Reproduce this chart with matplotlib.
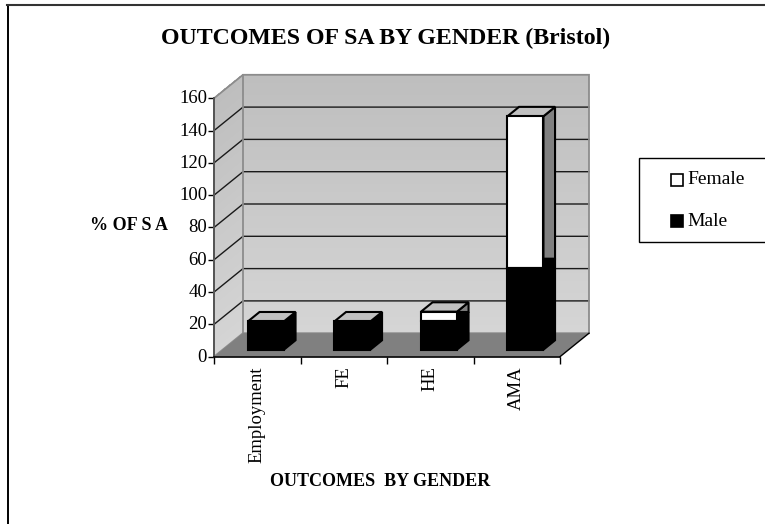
import matplotlib
matplotlib.use("Agg")
import matplotlib.pyplot as plt
import numpy as np
from matplotlib.lines import Line2D
from matplotlib.patches import Polygon, Rectangle
from matplotlib.transforms import ScaledTranslation

# values
categories = ["Employment", "FE", "HE", "AMA"]
male = [17.5, 17.5, 17.5, 50.5]
female = [0, 0, 6, 94]
y_ticks = [0, 20, 40, 60, 80, 100, 120, 140, 160]

plt.rcParams["font.family"] = ["Liberation Serif", "DejaVu Serif"]

W, H = 765, 524
fig = plt.figure(figsize=(W / 100, H / 100), dpi=100)

# front plane of the fake 3d box, pixels
left, right, bottom, top = 214, 560, 356.7, 98.3
ax = fig.add_axes([left / W, 1 - bottom / H, (right - left) / W, (bottom - top) / H])
ax.set_xlim(0, len(categories))
ax.set_ylim(0, 160)
ax.patch.set_visible(False)

# depth offset of the box, in data units
dep_x = 29.0 / ((right - left) / len(categories))
dep_y = 23.5 / ((bottom - top) / 160)

bar_w = 36.0 / ((right - left) / len(categories))
front = 0.3  # where the bar starts in the depth
deep = 0.4


def pt(x, y, d):
    return (x + d * dep_x, y + d * dep_y)


def poly(pts, face, edge="none", lw=0, z=1, aa=True):
    ax.add_patch(Polygon(pts, closed=True, facecolor=face, edgecolor=edge, antialiased=aa,
                         linewidth=lw, zorder=z, clip_on=False, joinstyle="miter"))


n = len(categories)

# walls with the grey fade, darker on top, drawn as thin bands
levels = np.linspace(0, 160, 65)
shades = np.linspace(0.835, 0.745, 64)
for k in range(64):
    y0, y1 = levels[k], levels[k + 1] + 0.3
    g = str(shades[k])
    poly([pt(0, y0, 1), pt(n, y0, 1), pt(n, y1, 1), pt(0, y1, 1)], g, z=1, aa=False)
    poly([pt(0, y0, 0), pt(0, y0, 1), pt(0, y1, 1), pt(0, y1, 0)], g, z=1, aa=False)

# gridlines
for t in y_ticks[1:-1]:
    ax.plot(*zip(pt(0, t, 0), pt(0, t, 1), pt(n, t, 1)), color="#1a1a1a", lw=1.0, zorder=2, clip_on=False)

# wall edges
poly([pt(0, 0, 0), pt(0, 0, 1), pt(n, 0, 1), pt(n, 160, 1), pt(0, 160, 1), pt(0, 160, 0)],
     "none", "#8c8c8c", 1.3, 2)
ax.plot(*zip(pt(0, 0, 1), pt(0, 160, 1)), color="#8c8c8c", lw=1.3, zorder=2, clip_on=False)

# floor
poly([pt(0, 0, 0), pt(n, 0, 0), pt(n, 0, 1), pt(0, 0, 1)], "#808080", z=3)
ax.plot(*zip(pt(n, 0, 0), pt(n, 0, 1)), color="black", lw=1.0, zorder=3, clip_on=False)


def box(x0, y0, y1, face, top_face, side_face):
    x1 = x0 + bar_w
    lw = 1.5
    poly([pt(x0, y0, front), pt(x1, y0, front), pt(x1, y1, front), pt(x0, y1, front)], face, "black", lw, 5)
    poly([pt(x1, y0, front), pt(x1, y0, front + deep), pt(x1, y1, front + deep), pt(x1, y1, front)],
         side_face, "black", lw, 4)
    poly([pt(x0, y1, front), pt(x1, y1, front), pt(x1, y1, front + deep), pt(x0, y1, front + deep)],
         top_face, "black", lw, 4)


for i in range(n):
    x0 = i + 0.5 - bar_w / 2
    if female[i] > 0:
        box(x0, male[i], male[i] + female[i], "white", "#c0c0c0", "#808080")
        box(x0, 0, male[i], "black", "black", "black")
    else:
        box(x0, 0, male[i], "black", "#c0c0c0", "black")

# axes
for s in ["top", "right"]:
    ax.spines[s].set_visible(False)
ax.spines["left"].set_color("#555555")
ax.spines["left"].set_linewidth(1.4)
ax.spines["bottom"].set_linewidth(1.2)
ax.spines["bottom"].set_zorder(6)
ax.set_yticks(y_ticks)
ax.set_xticks(range(n + 1))
ax.set_xticklabels([])
ax.set_xticks(np.arange(n) + 0.5, minor=True)
ax.set_xticklabels(categories, minor=True, rotation=90, fontsize=13.4)
ax.tick_params(axis="x", which="minor", length=0, pad=7)
ax.tick_params(axis="x", which="major", length=5, width=1)
ax.tick_params(axis="y", length=4, width=1, pad=1, labelsize=13.5)

# y labels sit a little above their ticks
shift = ScaledTranslation(0, 1.5 / 100, fig.dpi_scale_trans)
for label in ax.get_yticklabels():
    label.set_transform(label.get_transform() + shift)

# texts
fig.text(386 / W, 1 - 38 / H, "OUTCOMES OF SA BY GENDER (Bristol)", ha="center", va="center",
         fontsize=17.2, fontweight="bold")
fig.text(129.5 / W, 1 - 226 / H, "% OF S A", ha="center", va="center", fontsize=13, fontweight="bold")
fig.text(380.5 / W, 1 - 482 / H, "OUTCOMES  BY GENDER", ha="center", va="center", fontsize=13, fontweight="bold")

# outer frame, only top and left are inside the picture
fig.add_artist(Line2D([7.5 / W, 7.5 / W], [0, 1 - 5 / H], color="black", linewidth=1.4))
fig.add_artist(Line2D([7 / W, 1], [1 - 5 / H, 1 - 5 / H], color="#333333", linewidth=1.5))

# legend box
fig.add_artist(Rectangle((639 / W, 1 - 242 / H), 130 / W, 84 / H, transform=fig.transFigure,
                         facecolor="white", edgecolor="black", linewidth=1.0))
fig.add_artist(Rectangle((670.5 / W, 1 - 186 / H), 12 / W, 12 / H, transform=fig.transFigure,
                         facecolor="white", edgecolor="black", linewidth=1.2))
fig.add_artist(Rectangle((670.5 / W, 1 - 227 / H), 12 / W, 12 / H, transform=fig.transFigure,
                         facecolor="black", edgecolor="black", linewidth=1.2))
fig.text(687.5 / W, 1 - 180 / H, "Female", va="center", fontsize=14)
fig.text(687.5 / W, 1 - 221 / H, "Male", va="center", fontsize=14)

fig.savefig("out.png", dpi=100)
